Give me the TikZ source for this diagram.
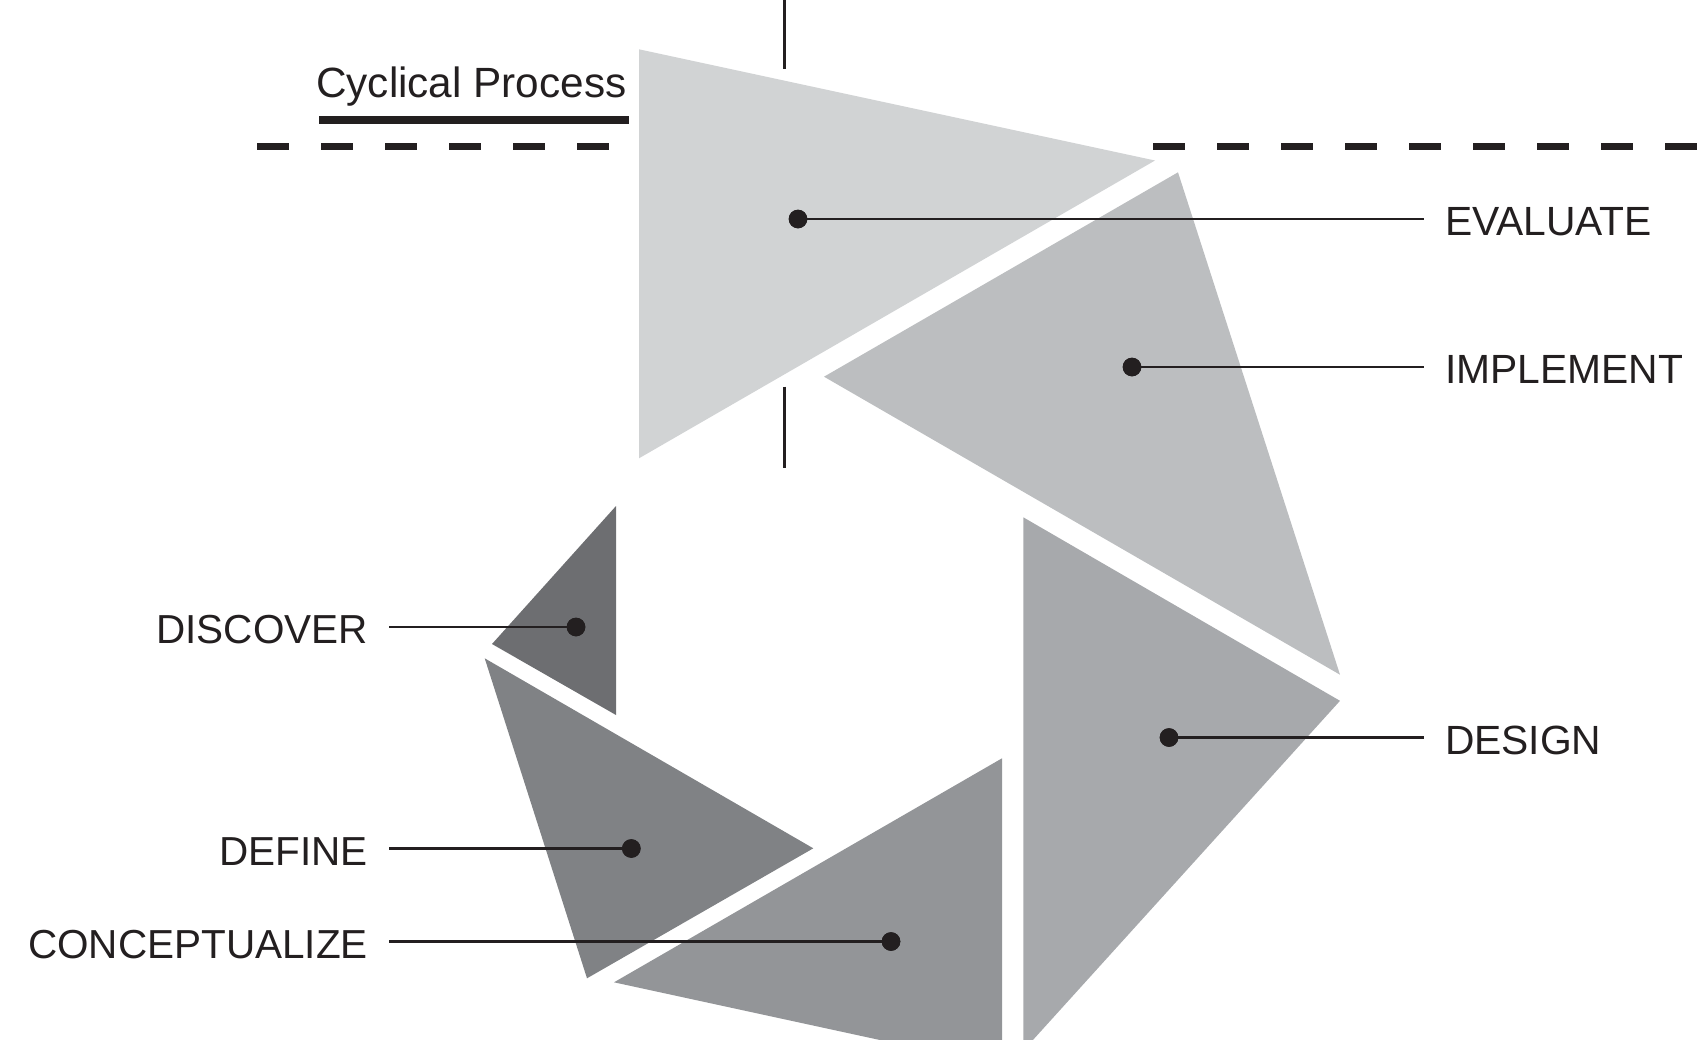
\documentclass[tikz,border=0pt]{standalone}
\usepackage{fontspec}
\setmainfont{Liberation Sans}
\definecolor{ink}{HTML}{231F20}
\definecolor{kEval}{HTML}{D1D3D4}
\definecolor{kImpl}{HTML}{BCBEC0}
\definecolor{kDesi}{HTML}{A7A9AC}
\definecolor{kConc}{HTML}{939598}
\definecolor{kDefi}{HTML}{808285}
\definecolor{kDisc}{HTML}{6D6E71}
\tikzset{
  dotn/.style={circle, fill=ink, draw=none, minimum size=18.6pt, inner sep=0pt, outer sep=0pt},
  rlab/.style={anchor=base west, inner ysep=0pt, inner xsep=21pt, outer sep=0pt, text=ink, font=\fontsize{40.8}{48}\selectfont},
  llab/.style={anchor=base east, inner ysep=0pt, inner xsep=21pt, outer sep=0pt, text=ink, font=\fontsize{40.5}{48}\selectfont},
  conn/.style={draw=ink, line width=2.2pt},
  guide/.style={draw=ink, line width=2.5pt},
  dashline/.style={draw=ink, line width=7.5pt, dash pattern=on 32pt off 32pt},
  tri/.style={draw=none}
}
\begin{document}
\begin{tikzpicture}[x=1pt, y=-1pt]
\useasboundingbox (0,0) rectangle (1707,1039);
\begin{scope}
\clip (0,0) rectangle (1707,1039);
% triangles
\fill[kEval, tri] (639,458.3) -- (639,49.3) -- (1155,160.5) -- cycle;
\fill[kImpl, tri] (824,376.7) -- (1178,172.3) -- (1340,674.7) -- cycle;
\fill[kDesi, tri] (1023.3,517.3) -- (1340,700.8) -- (1023.3,1050.6) -- cycle;
\fill[kConc, tri] (1002,758.3) -- (614,982.3) -- (1002,1066.5) -- cycle;
\fill[kDefi, tri] (813.3,848.3) -- (587,978.3) -- (484.7,658.3) -- cycle;
\fill[kDisc, tri] (616,715) -- (492,644) -- (616,506) -- cycle;
\end{scope}
% guide lines
\draw[guide] (784.6,0) -- (784.6,69.3);
\draw[guide] (784.6,386.7) -- (784.6,467.7);
\draw[dashline] (257,146.3) -- (609,146.3);
\draw[dashline] (1153,146.3) -- (1697,146.3);
% title
\node[anchor=base west, inner sep=0pt, text=ink, font=\fontsize{42.3}{50}\selectfont] (title) at (316,97) {Cyclical Process};
\draw[draw=ink, line width=8pt] (319,120) -- (629,120);
% dots
\node[dotn] (dEval) at (798,219) {};
\node[dotn] (dImpl) at (1132,367) {};
\node[dotn] (dDesi) at (1169,737.5) {};
\node[dotn] (dDisc) at (576,627) {};
\node[dotn] (dDefi) at (631.3,848.5) {};
\node[dotn] (dConc) at (891,941.5) {};
% labels
\node[rlab] (tEval) at (1424,235.5) {EVALUATE};
\node[rlab] (tImpl) at (1424,383.5) {IMPLEMENT};
\node[rlab] (tDesi) at (1424,754) {DESIGN};
\node[llab] (tDisc) at (389,643.5) {DISCOVER};
\node[llab] (tDefi) at (389,865) {DEFINE};
\node[llab] (tConc) at (389,958) {CONCEPTUALIZE};
% connectors
\draw[conn] (dEval.center) -- (dEval -| tEval.west);
\draw[conn] (dImpl.center) -- (dImpl -| tImpl.west);
\draw[conn] (dDesi.center) -- (dDesi -| tDesi.west);
\draw[conn] (dDisc.center) -- (dDisc -| tDisc.east);
\draw[conn] (dDefi.center) -- (dDefi -| tDefi.east);
\draw[conn] (dConc.center) -- (dConc -| tConc.east);
% redraw dots on top
\foreach \d in {dEval,dImpl,dDesi,dDisc,dDefi,dConc} {\fill[ink] (\d) circle (9.3pt);}
\end{tikzpicture}
\end{document}
